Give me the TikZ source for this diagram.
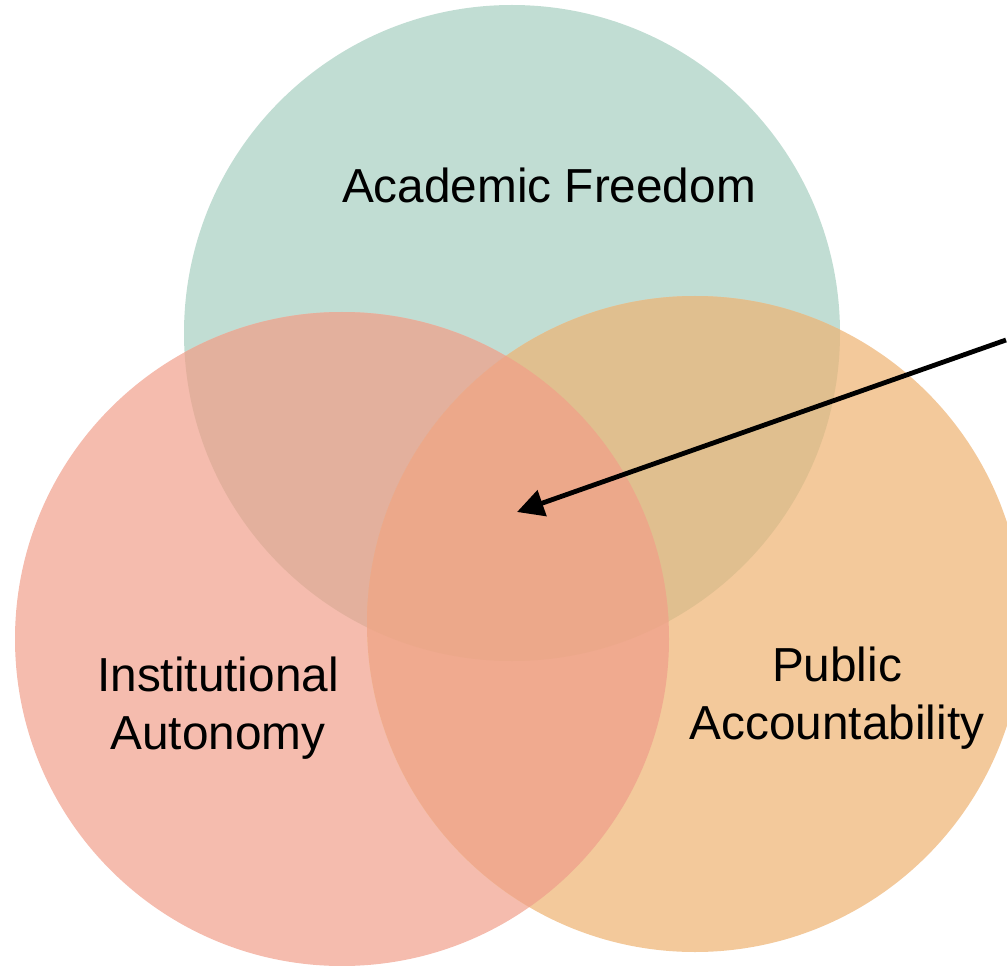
\documentclass[tikz,border=0pt]{standalone}
\usepackage{fontspec}
\setmainfont{Liberation Sans}
\usetikzlibrary{arrows.meta}
\definecolor{cG}{HTML}{C1DDD3}
\definecolor{cR}{HTML}{F5BCAE}
\definecolor{cO}{HTML}{F3C99B}
\definecolor{cGR}{HTML}{E3B09D}
\definecolor{cGO}{HTML}{E0BF8F}
\definecolor{cRO}{HTML}{F0AA8F}
\definecolor{cGRO}{HTML}{ECA88A}
\tikzset{
  lbl/.style={font=\fontsize{35.8}{43.5}\selectfont, align=center, text=black},
  pointer/.style={line width=3.6pt, -{Triangle[length=20pt,width=20pt]}},
}
\def\circG{(512,333) circle[radius=328]}
\def\circR{(342,639) circle[radius=327]}
\def\circO{(695,624) circle[radius=328]}
\begin{document}
\begin{tikzpicture}[x=0.75pt,y=-0.75pt]
\useasboundingbox (0,0) rectangle (1007,966);
\clip (0,0) rectangle (1007,966);
\fill[cG] \circG;
\fill[cR] \circR;
\fill[cO] \circO;
\begin{scope}
  \clip \circG;
  \fill[cGR] \circR;
  \fill[cGO] \circO;
\end{scope}
\begin{scope}
  \clip \circR;
  \fill[cRO] \circO;
\end{scope}
\begin{scope}
  \clip \circG;
  \clip \circR;
  \fill[cGRO] \circO;
\end{scope}
\node[lbl] (af) at (549,185) {Academic Freedom};
\node[lbl] (ia) at (218,708) {Institutional\\Autonomy};
\node[lbl] (pa) at (837,698) {Public\\Accountability};
\coordinate (src) at (1006,340);
\coordinate (tgt) at (517,512);
\draw[pointer] (src) -- (tgt);
\end{tikzpicture}
\end{document}
